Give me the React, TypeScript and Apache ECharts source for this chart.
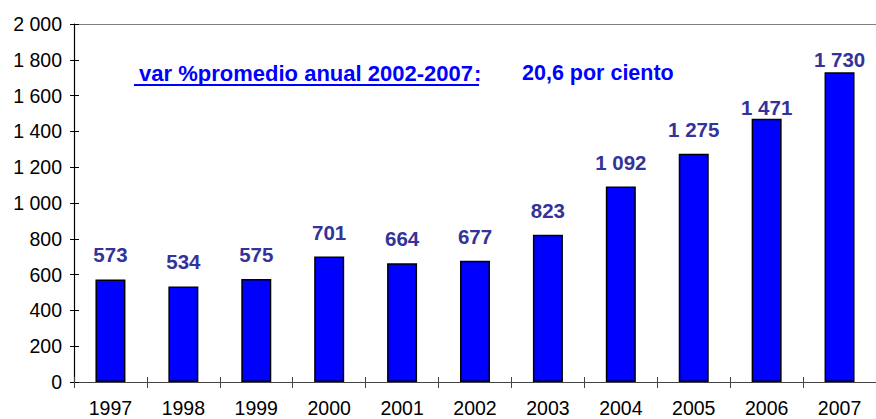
import React, { useEffect, useRef } from "react";
import * as echarts from "echarts";

const years = ["1997", "1998", "1999", "2000", "2001", "2002", "2003", "2004", "2005", "2006", "2007"];
const values = [573, 534, 575, 701, 664, 677, 823, 1092, 1275, 1471, 1730];
const labelDistances = [14, 14, 14, 14, 14, 14, 14, 14, 14, 1, 2];
const noteText = " var %promedio anual 2002-2007";
const noteColon = ":";
const noteValue = "20,6 por ciento";

const FONT = 'Arial, "Liberation Sans", sans-serif';
const fmt = (v: number) => {
  const s = String(Math.round(v));
  return s.replace(/\B(?=(\d{3})+(?!\d))/g, " ");
};

export default function App() {
  const ref = useRef<HTMLDivElement>(null);
  useEffect(() => {
    if (!ref.current) return;
    const chart = echarts.init(ref.current, null, { renderer: "svg" });
    chart.setOption({
      animation: false,
      backgroundColor: "#ffffff",
      grid: { left: 74, top: 24, width: 814, height: 358, containLabel: false },
      xAxis: [
        {
          type: "category",
          data: years,
          position: "bottom",
          axisLine: { show: true, lineStyle: { color: "#444", width: 1.2 } },
          axisTick: { show: true, inside: false, length: 6, lineStyle: { color: "#444" } },
          axisLabel: { color: "#000", fontSize: 19.5, fontFamily: FONT, margin: 16 },
        },
        {
          type: "category",
          data: years,
          position: "bottom",
          axisLine: { show: false },
          axisTick: { show: true, inside: true, length: 5, lineStyle: { color: "#444" } },
          axisLabel: { show: false },
        },
        {
          type: "category",
          data: years,
          position: "top",
          axisLine: { show: true, lineStyle: { color: "#808080", width: 1.2 } },
          axisTick: { show: false },
          axisLabel: { show: false },
        },
      ],
      yAxis: [
        {
          type: "value",
          min: 0,
          max: 2000,
          interval: 200,
          axisLine: { show: true, lineStyle: { color: "#000", width: 1.2 } },
          axisTick: { show: true, inside: false, length: 4, lineStyle: { color: "#000" } },
          axisLabel: { color: "#000", fontSize: 19.5, fontFamily: FONT, margin: 12, formatter: (v: number) => fmt(v) },
          splitLine: { show: false },
        },
        {
          type: "value",
          min: 0,
          max: 2000,
          interval: 200,
          position: "left",
          axisLine: { show: false },
          axisTick: { show: true, inside: true, length: 5, lineStyle: { color: "#000" } },
          axisLabel: { show: false },
          splitLine: { show: false },
        },
      ],
      series: [
        {
          type: "bar",
          xAxisIndex: 0,
          yAxisIndex: 0,
          barWidth: 30,
          data: values.map((v, i) => ({
            value: v,
            label: { distance: labelDistances[i] },
          })),
          itemStyle: { color: "#0000FF", borderColor: "#000", borderWidth: 1.5 },
          label: {
            show: true,
            position: "top",
            color: "#333399",
            fontSize: 20.5,
            fontWeight: "bold",
            fontFamily: FONT,
            formatter: (p: any) => fmt(p.value),
          },
        },
      ],
      graphic: [
        {
          type: "text",
          left: 133,
          top: 62,
          style: { text: noteText, fill: "#0000FF", font: `bold 22px ${FONT}` },
        },
        {
          type: "text",
          left: 474,
          top: 62,
          style: { text: noteColon, fill: "#0000FF", font: `bold 22px ${FONT}` },
        },
        {
          type: "line",
          shape: { x1: 134, y1: 85, x2: 479, y2: 85 },
          style: { stroke: "#0000FF", lineWidth: 2 },
        },
        {
          type: "text",
          left: 522,
          top: 62,
          style: { text: noteValue, fill: "#0000FF", font: `bold 21.5px ${FONT}` },
        },
      ],
    });
    return () => chart.dispose();
  }, []);
  return <div ref={ref} style={{ position: "fixed", left: 0, top: 0, width: 876, height: 419 }} />;
}
